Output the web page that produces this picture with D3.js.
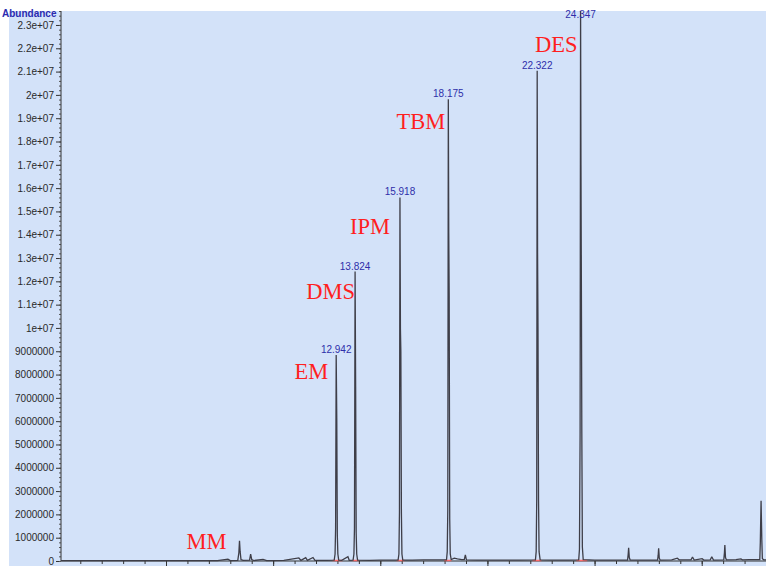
<!DOCTYPE html>
<html>
<head>
<meta charset="utf-8">
<script src="https://cdn.jsdelivr.net/npm/d3@7"></script>
<style>
  html, body { margin: 0; padding: 0; background: #ffffff; }
  svg { display: block; }
</style>
</head>
<body>
<svg id="chart" width="766" height="566"></svg>
<script>
// Total ion chromatogram: retention time (min) vs. abundance
const traceTime = [
  0.10, 1.50, 3.00, 4.50, 6.00, 7.40, 7.89, 8.00, 8.35, 8.40, 8.43, 8.46, 8.50, 8.60,
  8.90, 8.95, 9.00, 9.10, 9.53, 9.70, 10.50, 11.20, 11.30, 11.52, 11.60, 11.86, 11.95, 12.50,
  12.85, 12.89, 12.915, 12.942, 12.97, 12.995, 13.02, 13.06,
  13.20, 13.49, 13.55,
  13.73, 13.77, 13.795, 13.824, 13.85, 13.875, 13.90, 13.94,
  14.50, 15.00, 15.50,
  15.83, 15.87, 15.895, 15.918, 15.94, 15.96, 15.985, 16.01, 16.05,
  16.50, 17.00, 17.60,
  18.09, 18.125, 18.15, 18.175, 18.195, 18.215, 18.24, 18.265, 18.31,
  18.45, 18.60, 18.80, 18.92, 18.97, 19.02,
  19.50, 20.50, 21.50,
  22.24, 22.275, 22.30, 22.322, 22.34, 22.36, 22.385, 22.41, 22.46,
  23.00, 23.80,
  24.26, 24.295, 24.325, 24.347, 24.365, 24.385, 24.405, 24.43, 24.47,
  25.00, 26.00,
  26.54, 26.57, 26.59, 26.62, 26.66,
  27.30,
  27.94, 27.97, 27.99, 28.02, 28.06,
  28.60, 28.86, 28.95, 29.50, 29.57, 29.65, 30.02, 30.10, 30.40, 30.47, 30.55,
  31.03, 31.06, 31.08, 31.11, 31.15,
  31.60, 31.83, 31.90, 32.20, 32.50,
  32.71, 32.735, 32.752, 32.77, 32.788, 32.805, 32.83, 32.90, 33.00
];
const traceAbund = [
  15000, 12000, 14000, 12000, 15000, 20000, 80000, 20000, 30000, 350000, 870000, 400000, 60000, 25000,
  40000, 300000, 60000, 20000, 70000, 20000, 25000, 130000, 25000, 140000, 25000, 150000, 25000, 30000,
  40000, 300000, 1400000, 8840000, 6050000, 1100000, 300000, 40000,
  30000, 180000, 30000,
  40000, 300000, 1400000, 12420000, 7500000, 1200000, 300000, 40000,
  30000, 40000, 40000,
  40000, 300000, 2100000, 15600000, 9950000, 9000000, 2100000, 300000, 40000,
  40000, 45000, 50000,
  50000, 400000, 2200000, 19810000, 14100000, 11400000, 1800000, 300000, 60000,
  120000, 90000, 60000, 60000, 260000, 50000,
  40000, 40000, 40000,
  50000, 400000, 2600000, 21040000, 13200000, 10000000, 2600000, 400000, 50000,
  40000, 40000,
  50000, 500000, 5500000, 23700000, 17000000, 11600000, 5500000, 600000, 60000,
  40000, 40000,
  40000, 300000, 570000, 150000, 40000,
  40000,
  40000, 250000, 540000, 120000, 40000,
  50000, 120000, 50000, 50000, 170000, 40000, 100000, 40000, 50000, 180000, 40000,
  50000, 350000, 690000, 150000, 50000,
  60000, 90000, 50000, 60000, 60000,
  60000, 800000, 1700000, 2580000, 1700000, 900000, 100000, 50000, 50000
];

// Labelled peaks: apex retention time, apex abundance, printed retention time
const peakRT = [12.942, 13.824, 15.918, 18.175, 22.322, 24.347];
const peakApex = [8840000, 12420000, 15600000, 19810000, 21040000, 23700000];
const peakRTLabels = ["12.942", "13.824", "15.918", "18.175", "22.322", "24.347"];

const compoundNames = ["MM", "EM", "DMS", "IPM", "TBM", "DES"];
const compoundRT = [8.43, 12.942, 13.824, 15.918, 18.175, 24.347];
const compoundApex = [870000, 8840000, 12420000, 15600000, 19810000, 23700000];

// Integration baselines (start, end) in minutes
const integStart = [12.77, 13.70, 15.76, 17.99, 22.10, 24.15];
const integEnd = [13.23, 14.00, 16.13, 18.32, 22.52, 24.66];

const yTicks = d3.range(0, 23000001, 1000000);
const yTickLabels = ["0", "1000000", "2000000", "3000000", "4000000", "5000000", "6000000",
  "7000000", "8000000", "9000000", "1e+07", "1.1e+07", "1.2e+07", "1.3e+07", "1.4e+07",
  "1.5e+07", "1.6e+07", "1.7e+07", "1.8e+07", "1.9e+07", "2e+07", "2.1e+07", "2.2e+07", "2.3e+07"];

// ---- layout ----
const W = 766, H = 566;
const plot = { left: 61, right: 766, top: 11, bottom: 561 };

const svg = d3.select("#chart");

// background panel
svg.append("rect").attr("x", 9).attr("y", 11).attr("width", W - 9).attr("height", H - 11)
  .attr("fill", "#d3e2f9");

const x = d3.scaleLinear().domain([0.1, 33.0]).range([plot.left, plot.right]);
const y = d3.scaleLinear().domain([0, 23600000]).range([plot.bottom, plot.top]);

// clip for the trace
svg.append("defs").append("clipPath").attr("id", "plotClip")
  .append("rect").attr("x", plot.left).attr("y", plot.top)
  .attr("width", plot.right - plot.left).attr("height", plot.bottom - plot.top + 2);

// y axis with major + minor ticks
const yAxis = d3.axisLeft(y).tickValues(yTicks).tickSize(5).tickPadding(2)
  .tickFormat((d, i) => yTickLabels[i]);
const gy = svg.append("g").attr("transform", `translate(${plot.left},0)`).call(yAxis);
gy.select(".domain").remove();
gy.selectAll(".tick line").attr("stroke", "#333");
gy.selectAll(".tick text").attr("fill", "#2a2a2a")
  .style("font-family", "'Liberation Sans', Arial, sans-serif").style("font-size", "10px");

const yMinor = d3.axisLeft(y).tickValues(d3.range(0, 23600001, 200000)).tickSize(2).tickFormat("");
const gyMinor = svg.append("g").attr("transform", `translate(${plot.left},0)`).call(yMinor);
gyMinor.select(".domain").remove();
gyMinor.selectAll(".tick line").attr("stroke", "#555");

svg.append("line").attr("x1", plot.left).attr("x2", plot.left)
  .attr("y1", plot.top).attr("y2", plot.bottom).attr("stroke", "#333").attr("stroke-width", 1);

// x axis: minor ticks every minute, longer every 5 minutes
const xMinor = d3.axisBottom(x).tickValues(d3.range(1, 33.01, 1)).tickSize(3).tickFormat("");
const gx = svg.append("g").attr("transform", `translate(0,${plot.bottom})`).call(xMinor);
gx.select(".domain").remove();
gx.selectAll(".tick line").attr("stroke", "#333");
const xMajor = d3.axisBottom(x).tickValues(d3.range(5, 33.01, 5)).tickSize(6).tickFormat("");
const gx2 = svg.append("g").attr("transform", `translate(0,${plot.bottom})`).call(xMajor);
gx2.select(".domain").remove();
gx2.selectAll(".tick line").attr("stroke", "#333");

svg.append("line").attr("x1", plot.left).attr("x2", plot.right)
  .attr("y1", plot.bottom).attr("y2", plot.bottom).attr("stroke", "#333").attr("stroke-width", 1.2);

// integration baselines
svg.append("g").selectAll("line").data(integStart).join("line")
  .attr("x1", (d) => x(d)).attr("x2", (d, i) => x(integEnd[i]))
  .attr("y1", plot.bottom - 0.5).attr("y2", plot.bottom - 0.5)
  .attr("stroke", "#ff6a6a").attr("stroke-width", 1.5);

// chromatogram trace
const pts = traceTime.map((t, i) => [t, traceAbund[i]]);
const line = d3.line().x((d) => x(d[0])).y((d) => y(d[1]));
svg.append("path").datum(pts)
  .attr("clip-path", "url(#plotClip)")
  .attr("d", line)
  .attr("fill", "none").attr("stroke", "#3e3e48").attr("stroke-width", 1.3)
  .attr("stroke-linejoin", "miter").attr("stroke-miterlimit", 2);

// retention time labels above apexes
svg.append("g").selectAll("text").data(peakRT).join("text")
  .attr("x", (d) => x(d))
  .attr("y", (d, i) => Math.max(y(peakApex[i]) - 2, 18))
  .attr("text-anchor", "middle")
  .attr("fill", "#2e2eaa")
  .style("font-family", "'Liberation Sans', Arial, sans-serif").style("font-size", "10px")
  .text((d, i) => peakRTLabels[i]);

// compound names (offsets from the apex, in px)
const nameOffset = [[-13, 8], [-8, 24], [0, 27], [-10, 37], [-3, 30], [-3, 41]];
svg.append("g").selectAll("text").data(compoundNames).join("text")
  .attr("x", (d, i) => x(compoundRT[i]) + nameOffset[i][0])
  .attr("y", (d, i) => Math.max(y(compoundApex[i]), plot.top) + nameOffset[i][1])
  .attr("text-anchor", "end")
  .attr("fill", "#ff1f1f")
  .style("font-family", "'Liberation Serif', 'Times New Roman', serif").style("font-size", "22.5px")
  .text((d) => d);

// axis title
svg.append("text").attr("x", 2).attr("y", 17)
  .attr("fill", "#2a2ab0")
  .style("font-family", "'Liberation Sans', Arial, sans-serif").style("font-size", "10px")
  .style("font-weight", "bold")
  .text("Abundance");
</script>
</body>
</html>
